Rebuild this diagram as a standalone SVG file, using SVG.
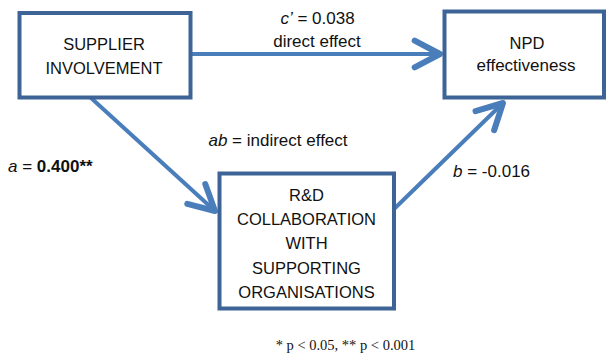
<svg xmlns="http://www.w3.org/2000/svg" width="607" height="359" viewBox="0 0 607 359">
  <style>
    .box { fill: #ffffff; stroke: #3E6497; stroke-width: 4; }
    .conn { fill: none; stroke: #4A7EBB; stroke-width: 4; }
    .t { font-family: "Liberation Sans", Arial, sans-serif; font-size: 16.5px; fill: #111111; text-anchor: middle; }
    .m { font-size: 17px; }
    .lbl { font-family: "Liberation Sans", Arial, sans-serif; font-size: 17px; fill: #111111; }
    .note { font-family: "Liberation Serif", "Times New Roman", serif; font-size: 14.5px; fill: #111111; text-anchor: middle; }
  </style>
  <defs>
    <marker id="arr" markerUnits="userSpaceOnUse" markerWidth="40" markerHeight="40" viewBox="-25 -15 30 30" refX="0" refY="0" orient="auto" overflow="visible">
      <path d="M-19,-10 L0,0 L-19,10" fill="none" stroke="#4A7EBB" stroke-width="4.5" stroke-linecap="round" stroke-linejoin="round"/>
    </marker>
  </defs>
  <rect width="607" height="359" fill="#ffffff"/>

  <g id="connectors">
    <line class="conn" x1="192" y1="54" x2="440" y2="54" marker-end="url(#arr)"/>
    <line class="conn" x1="90" y1="97" x2="215" y2="211" marker-end="url(#arr)"/>
    <line class="conn" x1="393" y1="210" x2="503" y2="103" marker-end="url(#arr)"/>
  </g>

  <g id="supplier">
    <rect class="box" x="19.5" y="13" width="171" height="84.5"/>
    <text class="t" x="104" y="50">SUPPLIER</text>
    <text class="t" x="104" y="73.5">INVOLVEMENT</text>
  </g>

  <g id="npd">
    <rect class="box" x="444.5" y="11.5" width="159.5" height="86"/>
    <text class="t" x="527" y="49">NPD</text>
    <text class="t m" x="526" y="71">effectiveness</text>
  </g>

  <g id="rnd">
    <rect class="box" x="219.5" y="173.5" width="174.5" height="135"/>
    <text class="t" x="306.5" y="200.5">R&amp;D</text>
    <text class="t" x="306.5" y="225">COLLABORATION</text>
    <text class="t" x="306.5" y="249">WITH</text>
    <text class="t" x="306.5" y="273.5">SUPPORTING</text>
    <text class="t" x="306.5" y="297.5">ORGANISATIONS</text>
  </g>

  <g id="labels">
    <text class="t m" x="317.5" y="24"><tspan font-style="italic">c’</tspan> = 0.038</text>
    <text class="t m" x="317" y="46.5">direct effect</text>
    <text class="t m" x="278" y="146"><tspan font-style="italic">ab</tspan> = indirect effect</text>
    <text class="lbl" x="8" y="171.5"><tspan font-style="italic">a</tspan> = <tspan font-weight="bold">0.400**</tspan></text>
    <text class="lbl" x="453" y="176.5"><tspan font-style="italic">b</tspan> = -0.016</text>
    <text class="note" x="345.5" y="350">* p &lt; 0.05, ** p &lt; 0.001</text>
  </g>
</svg>
